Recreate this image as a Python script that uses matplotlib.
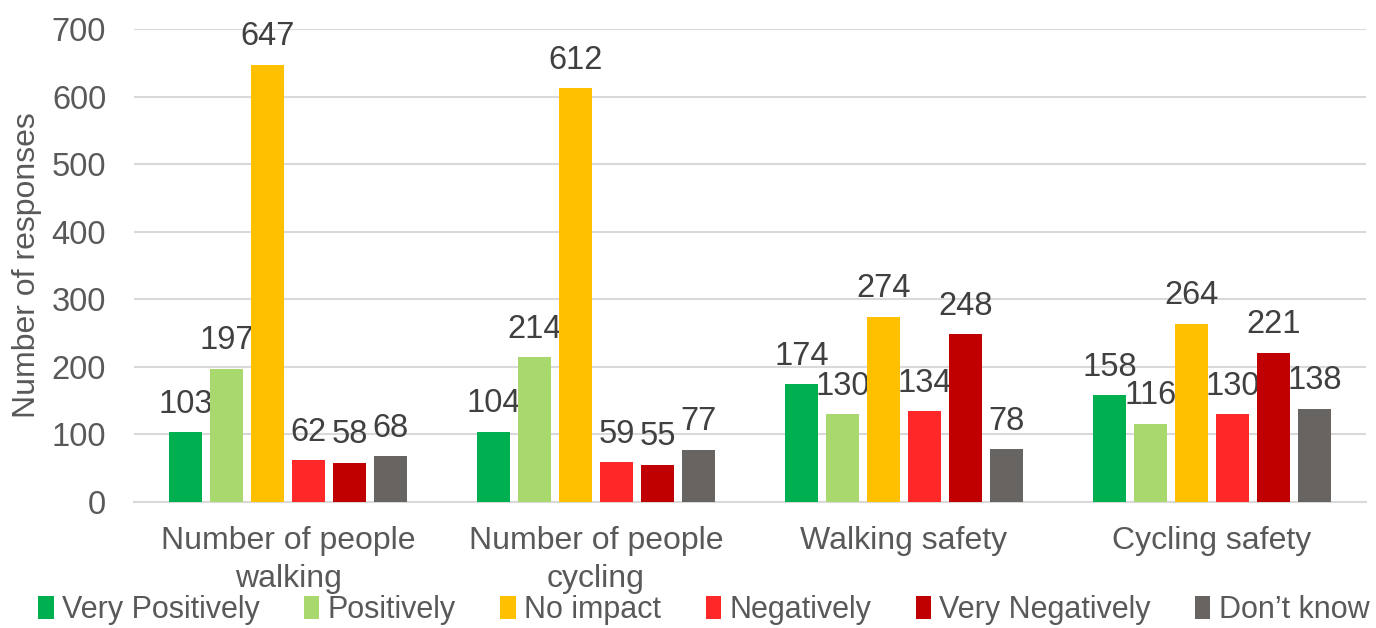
import matplotlib
matplotlib.use("Agg")
import matplotlib.pyplot as plt
import numpy as np

categories = ["Number of people\nwalking", "Number of people\ncycling", "Walking safety", "Cycling safety"]
series = ["Very Positively", "Positively", "No impact", "Negatively", "Very Negatively", "Don\u2019t know"]
very_positively = [103, 104, 174, 158]
positively = [197, 214, 130, 116]
no_impact = [647, 612, 274, 264]
negatively = [62, 59, 134, 130]
very_negatively = [58, 55, 248, 221]
dont_know = [68, 77, 78, 138]
values = [very_positively, positively, no_impact, negatively, very_negatively, dont_know]
colors = ["#00B050", "#A9D86E", "#FFC000", "#FF2828", "#C00000", "#686462"]
yticks = [0, 100, 200, 300, 400, 500, 600, 700]

plt.rcParams['font.family'] = ['Liberation Sans', 'DejaVu Sans']

fig = plt.figure(figsize=(13.76, 6.28), dpi=100)
ax = fig.add_axes([0.0974, 0.2006, 0.8953, 0.7532])

x = np.arange(len(categories))
step = 41 / 308
width = 33 / 308
for i, (name, vals, c) in enumerate(zip(series, values, colors)):
    pos = x + (i - 2.5) * step
    bars = ax.bar(pos, vals, width, color=c, label=name, zorder=3)
    for b, v in zip(bars, vals):
        ax.annotate(str(v), (b.get_x() + b.get_width() / 2, v), xytext=(0, 9),
                    textcoords="offset points", ha="center", va="bottom",
                    fontsize=23.5, color="#404040")

ax.set_xlim(-0.5, 3.5)
ax.set_ylim(0, 700)
ax.set_yticks(yticks)
ax.set_xticks(x)
ax.set_xticklabels(categories, fontsize=23, color="#595959", linespacing=1.35)
ax.tick_params(axis="y", labelsize=23.5, labelcolor="#595959", length=0, pad=20)
ax.tick_params(axis="x", length=0, pad=17)
ax.grid(axis="y", color="#D9D9D9", linewidth=1.5, zorder=0)
for s in ["top", "right", "left"]:
    ax.spines[s].set_visible(False)
ax.spines["bottom"].set_color("#D9D9D9")
ax.spines["bottom"].set_linewidth(1.5)
ax.set_ylabel("Number of responses", fontsize=23, color="#595959")
ax.yaxis.set_label_coords(-0.0747, 0.5)

fig.legend(loc="center", bbox_to_anchor=(0.5116, 0.0287), ncol=6, frameon=False,
           fontsize=22, labelcolor="#595959", handlelength=0.5, handleheight=0.75,
           handletextpad=0.28, columnspacing=1.45, borderpad=0.0)

fig.savefig("out.png", dpi=100)
